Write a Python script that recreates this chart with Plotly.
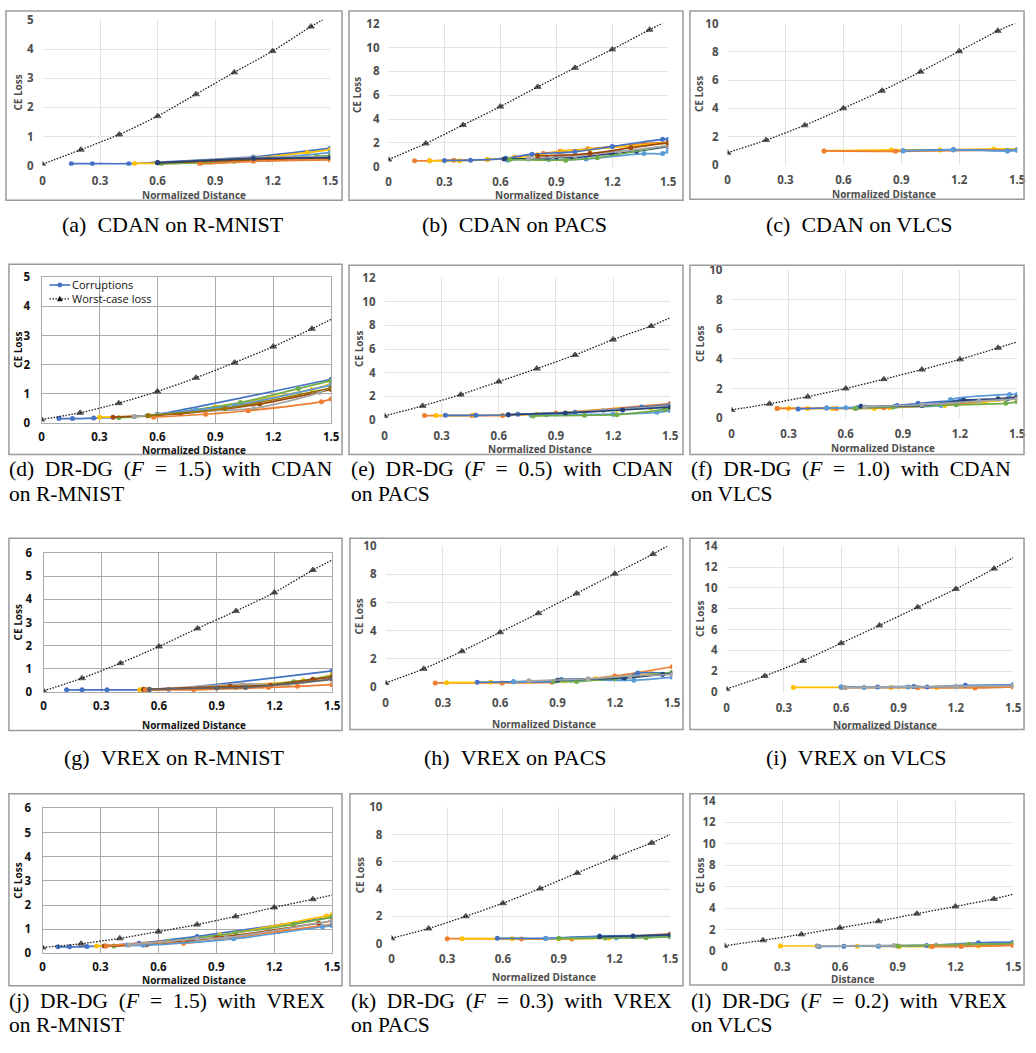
import plotly.graph_objects as go

# ------------------------------------------------------------------ data
worst_x = [0, 0.2, 0.4, 0.6, 0.8, 1.0, 1.2, 1.4, 1.5]
x_tick_vals = [0, 0.3, 0.6, 0.9, 1.2, 1.5]
x_tick_text = ["0", "0.3", "0.6", "0.9", "1.2", "1.5"]

# (a) CDAN on R-MNIST
a_worst = [0.05, 0.55, 1.07, 1.7, 2.45, 3.2, 3.93, 4.77, 5.15]
a_corr_x = [[0.15, 0.26, 0.45, 0.6, 1.1, 1.5], [0.48, 0.88, 1.38, 1.5], [0.6, 1.1, 1.5],
            [0.62, 1.0, 1.43, 1.5], [0.6, 1.1, 1.5], [0.6, 1.18, 1.5], [0.82, 1.1, 1.5], [0.6, 1.1, 1.5]]
a_corr_y = [[0.07, 0.07, 0.07, 0.12, 0.3, 0.6], [0.08, 0.12, 0.45, 0.55], [0.1, 0.22, 0.45],
            [0.06, 0.15, 0.32, 0.35], [0.1, 0.28, 0.3], [0.1, 0.22, 0.25], [0.05, 0.15, 0.2], [0.1, 0.25, 0.28]]

# (b) CDAN on PACS
b_worst = [0.6, 1.95, 3.5, 5.05, 6.7, 8.3, 9.85, 11.5, 12.3]
b_corr_x = [[0.14, 0.22, 0.35, 0.53, 0.68, 0.83, 0.92, 1.07, 1.37, 1.5],
            [0.22, 0.38, 0.53, 0.67, 0.8, 0.93, 1.08, 1.5],
            [0.3, 0.44, 0.63, 0.77, 1.0, 1.2, 1.47, 1.5],
            [0.64, 0.75, 0.86, 1.06, 1.37, 1.47, 1.5],
            [0.62, 0.85, 0.9, 0.99, 1.2, 1.33, 1.5],
            [0.65, 0.95, 1.12, 1.5], [0.75, 1.0, 1.24, 1.5], [0.8, 1.08, 1.3, 1.5]]
b_corr_y = [[0.5, 0.5, 0.55, 0.6, 0.8, 1.1, 1.3, 1.5, 1.95, 2.05],
            [0.5, 0.5, 0.6, 0.75, 1.0, 1.3, 1.45, 2.0],
            [0.52, 0.55, 0.7, 1.05, 1.25, 1.7, 2.3, 2.3],
            [0.55, 0.65, 0.6, 0.65, 1.1, 1.1, 1.3],
            [0.65, 0.7, 0.8, 0.75, 1.1, 1.3, 1.7],
            [0.6, 0.55, 0.75, 1.8], [0.7, 0.9, 1.3, 1.75], [0.9, 1.1, 1.6, 2.0]]

# (c) CDAN on VLCS
c_worst = [0.85, 1.75, 2.8, 4.0, 5.25, 6.6, 8.05, 9.5, 10.1]
c_corr_x = [[0.5, 0.85, 1.1, 1.38, 1.5], [0.5, 0.87, 1.5], [0.91, 1.17, 1.45, 1.5], [0.91, 1.17, 1.45, 1.5]]
c_corr_y = [[0.98, 1.05, 1.05, 1.12, 1.1], [0.98, 0.95, 1.05], [1.0, 1.08, 1.0, 1.05], [0.98, 1.05, 0.98, 1.02]]

# (d) DR-DG (F = 1.5) with CDAN on R-MNIST
d_worst = [0.12, 0.35, 0.68, 1.08, 1.55, 2.07, 2.62, 3.23, 3.55]
d_corr_x = [[0.09, 0.16, 0.27, 0.48, 0.6, 1.5], [0.3, 0.56, 0.9, 1.4, 1.5], [0.4, 0.6, 1.03, 1.33, 1.5],
            [0.37, 0.72, 1.13, 1.5], [0.48, 0.78, 1.1, 1.44, 1.5], [0.58, 0.85, 1.07, 1.45, 1.5],
            [0.55, 0.8, 1.0, 1.5], [0.55, 0.95, 1.5]]
d_corr_y = [[0.15, 0.15, 0.17, 0.22, 0.3, 1.5], [0.2, 0.25, 0.55, 1.15, 1.35], [0.18, 0.28, 0.7, 1.18, 1.45],
            [0.2, 0.32, 0.65, 1.15], [0.22, 0.4, 0.5, 1.05, 1.25], [0.2, 0.3, 0.42, 0.73, 0.82],
            [0.25, 0.45, 0.6, 1.3], [0.25, 0.5, 1.2]]

# (e) DR-DG (F = 0.5) with CDAN on PACS
e_worst = [0.35, 1.2, 2.15, 3.25, 4.35, 5.5, 6.8, 7.95, 8.65]
e_corr_x = [[0.21, 0.46, 0.62, 0.9, 1.5], [0.27, 0.47, 0.8, 1.22, 1.4, 1.5],
            [0.32, 0.48, 0.65, 0.7, 1.0, 1.35, 1.5], [0.77, 0.85, 1.2, 1.43, 1.5],
            [0.78, 1.05, 1.22, 1.47, 1.5], [0.65, 1.15, 1.5], [0.65, 0.95, 1.25, 1.5]]
e_corr_y = [[0.38, 0.38, 0.38, 0.6, 1.4], [0.38, 0.4, 0.5, 0.9, 1.05, 1.2],
            [0.4, 0.4, 0.45, 0.5, 0.65, 1.1, 1.3], [0.4, 0.45, 0.5, 0.65, 0.8],
            [0.35, 0.4, 0.45, 0.9, 1.0], [0.45, 0.8, 1.2], [0.45, 0.6, 0.85, 1.1]]

# (f) DR-DG (F = 1.0) with CDAN on VLCS
f_worst = [0.55, 0.97, 1.45, 2.0, 2.63, 3.28, 3.97, 4.75, 5.15]
f_corr_x = [[0.24, 0.3, 0.4, 0.53, 0.75, 0.83, 1.12, 1.33, 1.5], [0.24, 0.55, 0.8, 1.2, 1.5],
            [0.35, 0.5, 0.66, 0.87, 0.98, 1.2, 1.45, 1.5], [0.5, 0.6, 0.86, 1.1, 1.15, 1.46, 1.5],
            [0.65, 0.85, 1.18, 1.44, 1.5], [0.68, 1.0, 1.22, 1.4, 1.5], [0.7, 1.0, 1.3, 1.5]]
f_corr_y = [[0.65, 0.65, 0.65, 0.65, 0.65, 0.7, 0.85, 1.1, 1.3], [0.65, 0.65, 0.7, 1.0, 1.45],
            [0.62, 0.68, 0.7, 0.85, 1.0, 1.2, 1.3, 1.4], [0.68, 0.7, 0.8, 0.85, 1.25, 1.6, 1.6],
            [0.65, 0.75, 0.9, 1.0, 1.1], [0.8, 0.85, 1.2, 1.3, 1.4], [0.75, 0.9, 1.15, 1.3]]

# (g) VREX on R-MNIST
g_worst = [0.05, 0.6, 1.25, 1.97, 2.75, 3.5, 4.3, 5.27, 5.7]
g_corr_x = [[0.12, 0.2, 0.33, 0.55, 0.65, 1.5], [0.5, 0.92, 1.35, 1.5], [0.52, 1.0, 1.3, 1.5],
            [0.53, 1.03, 1.27, 1.5], [0.52, 0.97, 1.18, 1.4, 1.5], [0.53, 0.78, 1.17, 1.32, 1.5],
            [0.55, 0.9, 1.05, 1.5]]
g_corr_y = [[0.1, 0.1, 0.1, 0.1, 0.12, 0.92], [0.1, 0.25, 0.5, 0.75], [0.1, 0.2, 0.45, 0.7],
            [0.1, 0.35, 0.32, 0.6], [0.12, 0.25, 0.3, 0.55, 0.65], [0.1, 0.1, 0.2, 0.25, 0.32],
            [0.12, 0.18, 0.2, 0.55]]

# (h) VREX on PACS
h_worst = [0.3, 1.3, 2.55, 3.9, 5.25, 6.65, 8.05, 9.45, 10.2]
h_corr_x = [[0.26, 0.61, 0.87, 1.2, 1.5], [0.32, 0.55, 0.75, 0.94, 1.1, 1.39, 1.5],
            [0.48, 0.67, 0.88, 0.92, 1.24, 1.32, 1.5], [0.67, 0.97, 1.3, 1.5],
            [0.88, 1.0, 1.2, 1.5], [0.9, 1.25, 1.45, 1.5], [0.75, 1.06, 1.28, 1.5]]
h_corr_y = [[0.3, 0.3, 0.35, 0.8, 1.45], [0.32, 0.35, 0.4, 0.45, 0.6, 0.95, 1.05],
            [0.35, 0.38, 0.4, 0.55, 0.65, 1.0, 1.0], [0.38, 0.5, 0.5, 0.7],
            [0.4, 0.4, 0.6, 1.05], [0.5, 0.65, 0.9, 0.95], [0.45, 0.6, 0.8, 0.9]]

# (i) VREX on VLCS
i_worst = [0.3, 1.55, 3.0, 4.7, 6.4, 8.15, 9.9, 11.85, 12.9]
i_corr_x = [[0.35, 0.6, 0.86, 1.1, 1.5], [0.62, 1.0, 1.3, 1.5], [0.6, 0.79, 0.98, 1.05, 1.25, 1.5],
            [0.6, 0.72, 0.95, 1.2, 1.5], [0.62, 1.2, 1.5]]
i_corr_y = [[0.45, 0.45, 0.45, 0.45, 0.55], [0.42, 0.42, 0.4, 0.5], [0.5, 0.5, 0.55, 0.5, 0.65, 0.7],
            [0.48, 0.45, 0.48, 0.55, 0.65], [0.45, 0.55, 0.6]]

# (j) DR-DG (F = 1.5) with VREX on R-MNIST
j_worst = [0.24, 0.4, 0.62, 0.9, 1.19, 1.53, 1.9, 2.24, 2.41]
j_corr_x = [[0.08, 0.14, 0.23, 0.5, 0.8, 1.5], [0.28, 0.54, 0.92, 1.47, 1.5], [0.37, 0.65, 1.0, 1.3, 1.5],
            [0.32, 0.54, 0.9, 1.43, 1.5], [0.33, 0.61, 0.73, 1.22, 1.5], [0.44, 0.52, 0.99, 1.45, 1.5],
            [0.45, 0.8, 0.95, 1.5]]
j_corr_y = [[0.27, 0.27, 0.28, 0.42, 0.7, 1.5], [0.3, 0.4, 0.75, 1.55, 1.6], [0.3, 0.5, 0.85, 1.2, 1.5],
            [0.3, 0.36, 0.65, 1.25, 1.35], [0.3, 0.45, 0.42, 0.9, 1.2], [0.35, 0.33, 0.6, 1.1, 1.15],
            [0.35, 0.6, 0.65, 1.35]]

# (k) DR-DG (F = 0.3) with VREX on PACS
k_worst = [0.38, 1.1, 2.0, 2.96, 4.04, 5.19, 6.32, 7.4, 8.0]
k_corr_x = [[0.3, 0.7, 0.97, 1.5], [0.38, 0.65, 0.9, 1.17, 1.5], [0.57, 0.83, 1.12, 1.5],
            [0.83, 1.15, 1.21, 1.5], [0.9, 1.15, 1.37, 1.5], [1.12, 1.3, 1.5]]
k_corr_y = [[0.35, 0.33, 0.33, 0.7], [0.35, 0.35, 0.35, 0.4, 0.6], [0.38, 0.38, 0.55, 0.6],
            [0.36, 0.45, 0.42, 0.5], [0.38, 0.4, 0.42, 0.5], [0.5, 0.55, 0.65]]

# (l) DR-DG (F = 0.2) with VREX on VLCS
l_worst = [0.52, 1.03, 1.58, 2.19, 2.8, 3.5, 4.17, 4.87, 5.3]
l_corr_x = [[0.29, 0.48, 0.69, 0.91, 1.07, 1.32, 1.5], [0.49, 0.62, 0.8, 1.05, 1.32, 1.5],
            [0.49, 0.8, 1.2, 1.5], [0.48, 0.88, 1.1, 1.5], [0.9, 1.27, 1.5], [1.08, 1.23, 1.5]]
l_corr_y = [[0.5, 0.5, 0.48, 0.45, 0.45, 0.5, 0.6], [0.45, 0.48, 0.48, 0.55, 0.8, 0.85],
            [0.45, 0.5, 0.6, 0.75], [0.5, 0.55, 0.6, 0.7], [0.5, 0.65, 0.7], [0.45, 0.45, 0.55]]

captions = {
    "a": "(a)\u00a0\u00a0CDAN on R-MNIST",
    "b": "(b)\u00a0\u00a0CDAN on PACS",
    "c": "(c)\u00a0\u00a0CDAN on VLCS",
    "d": ["(d) DR-DG (<i>F</i> = 1.5) with CDAN", "on R-MNIST"],
    "e": ["(e) DR-DG (<i>F</i> = 0.5) with CDAN", "on PACS"],
    "f": ["(f) DR-DG (<i>F</i> = 1.0) with CDAN", "on VLCS"],
    "g": "(g)\u00a0\u00a0VREX on R-MNIST",
    "h": "(h)\u00a0\u00a0VREX on PACS",
    "i": "(i)\u00a0\u00a0VREX on VLCS",
    "j": ["(j) DR-DG (<i>F</i> = 1.5) with VREX", "on R-MNIST"],
    "k": ["(k) DR-DG (<i>F</i> = 0.3) with VREX", "on PACS"],
    "l": ["(l) DR-DG (<i>F</i> = 0.2) with VREX", "on VLCS"],
}
legend_labels = ["Corruptions", "Worst-case loss"]
y_title = "CE Loss"
x_title = "Normalized Distance"
x_title_l = "Distance"

# ------------------------------------------------------------------ style / layout
W, H = 1036, 1053
B, O, G, Y, L, GR, DB, BR, DG, DY = ("#4472C4", "#ED7D31", "#A5A5A5", "#FFC000", "#5B9BD5",
                                     "#70AD47", "#264478", "#9E480E", "#636363", "#997300")
colors = {
    "a": [B, Y, L, GR, G, BR, O, DB],
    "b": [O, Y, B, L, DB, GR, G, BR],
    "c": [Y, O, B, L],
    "d": [B, Y, GR, BR, G, O, L, DY],
    "e": [O, Y, B, L, GR, G, DB],
    "f": [Y, O, B, L, GR, DB, G],
    "g": [B, Y, GR, G, BR, O, DG],
    "h": [O, Y, B, L, GR, DB, G],
    "i": [Y, O, B, L, G],
    "j": [B, Y, GR, BR, O, L, G],
    "k": [O, Y, B, L, GR, DB],
    "l": [Y, B, L, G, GR, O],
}
data = {
    "a": (a_worst, a_corr_x, a_corr_y), "b": (b_worst, b_corr_x, b_corr_y),
    "c": (c_worst, c_corr_x, c_corr_y), "d": (d_worst, d_corr_x, d_corr_y),
    "e": (e_worst, e_corr_x, e_corr_y), "f": (f_worst, f_corr_x, f_corr_y),
    "g": (g_worst, g_corr_x, g_corr_y), "h": (h_worst, h_corr_x, h_corr_y),
    "i": (i_worst, i_corr_x, i_corr_y), "j": (j_worst, j_corr_x, j_corr_y),
    "k": (k_worst, k_corr_x, k_corr_y), "l": (l_worst, l_corr_x, l_corr_y),
}
# plot box px (x0, x1, ytop, ybot), ymax, ystep, frame (x0, y0, x1, y1), heavy grid, ytitle x, xtitle (x, y)
geo = {
    "a": ((40, 331, 12, 160), 5, 1, (3, 3, 343, 195), False, 15, (193, 190)),
    "b": ((390, 673, 16, 161), 12, 2, (350, 3, 688, 195), False, 358, (550, 190)),
    "c": ((733, 1026, 16, 159), 10, 2, (695, 3, 1033, 194), False, 704, (891, 189)),
    "d": ((39, 332, 273, 421), 5, 1, (6, 260, 343, 453), True, 15, (193, 448)),
    "e": ((386, 675, 274, 418), 12, 2, (350, 261, 688, 453), False, 360, (543, 447)),
    "f": ((737, 1026, 266, 416), 10, 2, (695, 261, 1033, 453), False, 705, (890, 446)),
    "g": ((41, 333, 553, 694), 6, 1, (6, 538, 343, 733), True, 15, (193, 727)),
    "h": ((387, 677, 546, 689), 10, 2, (351, 538, 688, 732), False, 360, (547, 726)),
    "i": ((732, 1022, 546, 694), 14, 2, (695, 538, 1033, 732), False, 705, (892, 727)),
    "j": ((40, 333, 812, 959), 6, 1, (6, 797, 343, 992), True, 15, (193, 986)),
    "k": ((393, 675, 811, 949), 10, 2, (351, 797, 688, 992), False, 362, (547, 983)),
    "l": ((730, 1022, 804, 957), 14, 2, (695, 797, 1033, 991), False, 705, (860, 985)),
}
cap_center = {"a": (172, 220), "b": (517, 220), "c": (867, 220),
              "g": (174, 760), "h": (519, 760), "i": (863, 760)}
cap_left = {"d": (5, 468, 493), "e": (351, 468, 493), "f": (695, 468, 493),
            "j": (5, 1007, 1032), "k": (351, 1007, 1032), "l": (695, 1007, 1032)}

TICK_FONT = "Open Sans"
CAP_FONT = "Liberation Serif"


def px_x(v):
    return v / W


def px_y(v):
    return 1 - v / H


fig = go.Figure()
layout = dict(width=W, height=H, margin=dict(l=0, r=0, t=0, b=0), autosize=False,
              paper_bgcolor="white", plot_bgcolor="white", showlegend=False)
shapes = []
annotations = []

for idx, key in enumerate("abcdefghijkl", start=1):
    (x0, x1, yt, yb), ymax, ystep, frame, heavy, ytx, (xtx, xty) = geo[key]
    worst, cx, cy = data[key]
    xa = "x" if idx == 1 else f"x{idx}"
    ya = "y" if idx == 1 else f"y{idx}"
    grid_col = "#ababab" if heavy else "#e2e2e2"
    tick_col = "#111111" if heavy else "#4d4d4d"
    yticks = list(range(0, ymax + 1, ystep))
    axis_common = dict(showgrid=True, gridcolor=grid_col, gridwidth=1.4 if heavy else 1,
                       zeroline=False, ticks="", fixedrange=True,
                       showline=heavy, linecolor=grid_col, linewidth=1.4, mirror=heavy,
                       tickfont=dict(family=TICK_FONT, size=11.5, color=tick_col, weight=700))
    layout["xaxis" if idx == 1 else f"xaxis{idx}"] = dict(
        axis_common, domain=[px_x(x0), px_x(x1)], range=[0, 1.5], anchor=ya,
        tickvals=x_tick_vals, ticktext=x_tick_text, ticklabelstandoff=3 if heavy else 7)
    layout["yaxis" if idx == 1 else f"yaxis{idx}"] = dict(
        axis_common, domain=[px_y(yb), px_y(yt)], range=[0, ymax], anchor=xa,
        tickvals=yticks, ticktext=[str(t) for t in yticks], ticklabelstandoff=8)

    # corruption curves
    for s, (xs, ys) in enumerate(zip(cx, cy)):
        col = colors[key][s % len(colors[key])]
        fig.add_trace(go.Scatter(x=xs, y=ys, mode="lines+markers", xaxis=xa, yaxis=ya,
                                 line=dict(color=col, width=1.7, shape="spline", smoothing=0.8),
                                 marker=dict(color=col, size=5, symbol="circle"),
                                 cliponaxis=True, hoverinfo="skip"))
    # worst-case loss
    msizes = [6] * (len(worst_x) - 1) + [0]
    fig.add_trace(go.Scatter(x=worst_x, y=worst, mode="lines+markers", xaxis=xa, yaxis=ya,
                             line=dict(color="#1a1a1a", width=1.3, dash="1.5px,1.5px",
                                       shape="spline", smoothing=0.6),
                             marker=dict(color="#111111", size=msizes, symbol="triangle-up"),
                             cliponaxis=True, hoverinfo="skip"))

    # outer frame
    fx0, fy0, fx1, fy1 = frame
    shapes.append(dict(type="rect", xref="paper", yref="paper",
                       x0=px_x(fx0), x1=px_x(fx1), y0=px_y(fy1), y1=px_y(fy0),
                       line=dict(color="#9a9a9a", width=1.5), fillcolor="rgba(0,0,0,0)", layer="above"))
    # axis titles
    annotations.append(dict(xref="paper", yref="paper", x=px_x(ytx), y=px_y((yt + yb) / 2),
                            text=f"<b>{y_title}</b>", textangle=-90, showarrow=False,
                            xanchor="center", yanchor="middle", borderpad=0,
                            font=dict(family=TICK_FONT, size=10, color=tick_col)))
    annotations.append(dict(xref="paper", yref="paper", x=px_x(xtx), y=px_y(xty),
                            text=f"<b>{x_title_l if key == 'l' else x_title}</b>", showarrow=False,
                            xanchor="center", yanchor="middle", borderpad=0,
                            font=dict(family=TICK_FONT, size=10, color=tick_col)))
    # captions
    if key in cap_center:
        cxp, cyp = cap_center[key]
        annotations.append(dict(xref="paper", yref="paper", x=px_x(cxp), y=px_y(cyp),
                                text=captions[key], showarrow=False, xanchor="center", yanchor="middle",
                                font=dict(family=CAP_FONT, size=22, color="black")))
    else:
        lx, l1, l2 = cap_left[key]
        line1, line2 = captions[key]
        line1 = line1.replace(" ", " \u00a0")
        for txt, ly in ((line1, l1), (line2, l2)):
            annotations.append(dict(xref="paper", yref="paper", x=px_x(lx), y=px_y(ly),
                                    text=txt, showarrow=False, xanchor="left", yanchor="middle",
                                    borderpad=0,
                                    font=dict(family=CAP_FONT, size=21.5, color="black")))

# legend inside panel (d), drawn manually
lg_x0, lg_x1 = 47, 68
for k, ly in enumerate((281, 295)):
    if k == 0:
        shapes.append(dict(type="line", xref="paper", yref="paper", x0=px_x(lg_x0), x1=px_x(lg_x1),
                           y0=px_y(ly), y1=px_y(ly), line=dict(color=B, width=1.6)))
        shapes.append(dict(type="circle", xref="paper", yref="paper",
                           x0=px_x(55), x1=px_x(60), y0=px_y(ly + 2.5), y1=px_y(ly - 2.5),
                           fillcolor=B, line=dict(color=B, width=0)))
    else:
        shapes.append(dict(type="line", xref="paper", yref="paper", x0=px_x(lg_x0), x1=px_x(lg_x1),
                           y0=px_y(ly), y1=px_y(ly), line=dict(color="#1a1a1a", width=1.3, dash="1.5px,1.5px")))
        tx, ty = 57.5, ly
        shapes.append(dict(type="path", xref="paper", yref="paper",
                           path=f"M {px_x(tx - 3)} {px_y(ty + 2.5)} L {px_x(tx + 3)} {px_y(ty + 2.5)} "
                                f"L {px_x(tx)} {px_y(ty - 3)} Z",
                           fillcolor="#111111", line=dict(color="#111111", width=0)))
    annotations.append(dict(xref="paper", yref="paper", x=px_x(lg_x1 + 1), y=px_y(ly),
                            text=legend_labels[k], showarrow=False, xanchor="left", yanchor="middle",
                            borderpad=0,
                            font=dict(family=TICK_FONT, size=11, color="#111111")))

layout["shapes"] = shapes
layout["annotations"] = annotations
fig.update_layout(**layout)
fig.write_html("out.html", config={"displayModeBar": False},
               post_script="document.body.style.margin='0';document.body.style.padding='0';"
                           "document.documentElement.style.overflow='hidden';")
